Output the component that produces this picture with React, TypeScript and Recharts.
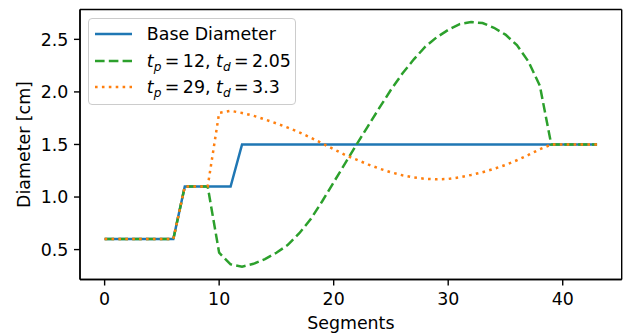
import React from "react";
import { CartesianGrid, Legend, Line, LineChart, XAxis, YAxis } from "recharts";

const SEGMENTS = Array.from({ length: 44 }, (_, i) => i);

const BASE_DIAMETER = [
  0.6, 0.6, 0.6, 0.6, 0.6, 0.6, 0.6, 1.1, 1.1, 1.1, 1.1, 1.1, 1.5, 1.5, 1.5, 1.5, 1.5, 1.5, 1.5, 1.5, 1.5, 1.5,
  1.5, 1.5, 1.5, 1.5, 1.5, 1.5, 1.5, 1.5, 1.5, 1.5, 1.5, 1.5, 1.5, 1.5, 1.5, 1.5, 1.5, 1.5, 1.5, 1.5, 1.5, 1.5,
];

const TP12 = [
  0.6, 0.6, 0.6, 0.6, 0.6, 0.6, 0.6, 1.1, 1.1, 1.1, 0.47, 0.36, 0.338, 0.365, 0.41, 0.47, 0.545, 0.656, 0.79,
  0.96, 1.14, 1.32, 1.5, 1.675, 1.85, 2.02, 2.175, 2.31, 2.43, 2.52, 2.59, 2.645, 2.665, 2.655, 2.61, 2.545,
  2.445, 2.29, 2.06, 1.5, 1.5, 1.5, 1.5, 1.5,
];

const TP29 = [
  0.6, 0.6, 0.6, 0.6, 0.6, 0.6, 0.6, 1.1, 1.1, 1.1, 1.8, 1.82, 1.8, 1.773, 1.738, 1.7, 1.66, 1.615, 1.565, 1.51,
  1.455, 1.4, 1.355, 1.31, 1.27, 1.235, 1.207, 1.186, 1.173, 1.168, 1.172, 1.187, 1.21, 1.236, 1.268, 1.305,
  1.35, 1.4, 1.455, 1.5, 1.5, 1.5, 1.5, 1.5,
];

const X_TICKS = [0, 10, 20, 30, 40];
const Y_TICKS = [0.5, 1.0, 1.5, 2.0, 2.5];

const data = SEGMENTS.map((s, i) => ({
  seg: s,
  base: BASE_DIAMETER[i],
  tp12: TP12[i],
  tp29: TP29[i],
}));

const FONT = "DejaVu Sans, sans-serif";
const FS = 17.4;
const LW = 2.5;
const DASHED = "9.6 4.2";
const DOTTED = "2.6 4.3";
const EQ = "\u2009=\u2009";

const sub = (s: string) => (
  <sub style={{ fontSize: "0.7em", verticalAlign: "-0.3em", lineHeight: 0 }}>
    <i>{s}</i>
  </sub>
);

// legend rows: dash pattern + label per series
const LEGEND_ROWS: { key: string; color: string; dash?: string; label: React.ReactNode }[] = [
  { key: "base", color: "#1f77b4", label: "Base Diameter" },
  {
    key: "tp12",
    color: "#2ca02c",
    dash: DASHED,
    label: (
      <>
        <i>t</i>
        {sub("p")}
        {EQ + "12, "}
        <i>t</i>
        {sub("d")}
        {EQ + "2.05"}
      </>
    ),
  },
  {
    key: "tp29",
    color: "#ff7f0e",
    dash: DOTTED,
    label: (
      <>
        <i>t</i>
        {sub("p")}
        {EQ + "29, "}
        <i>t</i>
        {sub("d")}
        {EQ + "3.3"}
      </>
    ),
  },
];

function LegendBox() {
  return (
    <div
      style={{
        boxSizing: "border-box",
        width: 208,
        height: 87,
        background: "rgba(255,255,255,0.8)",
        border: "1.3px solid #cccccc",
        borderRadius: 4,
        padding: "2px 0 0 6px",
        fontFamily: FONT,
        fontSize: FS,
        color: "#000",
      }}
    >
      {LEGEND_ROWS.map((r) => (
        <div key={r.key} style={{ display: "flex", alignItems: "center", height: 26.2, whiteSpace: "nowrap" }}>
          <svg width={37} height={10} style={{ marginRight: 14.5, flexShrink: 0 }}>
            <line x1={0} y1={5} x2={37} y2={5} stroke={r.color} strokeWidth={LW} strokeDasharray={r.dash} />
          </svg>
          <span>{r.label}</span>
        </div>
      ))}
    </div>
  );
}

export default function App() {
  return (
    <div style={{ position: "absolute", left: 0, top: 0, width: 627, height: 334, background: "#fff" }}>
      <LineChart width={627} height={334} data={data} margin={{ top: 9.5, right: 5.3, bottom: 4.5, left: 20 }}>
        <CartesianGrid
          stroke="#000"
          strokeWidth={1.4}
          horizontalCoordinatesGenerator={({ offset }: any) => [offset.top, offset.top + offset.height]}
          verticalCoordinatesGenerator={({ offset }: any) => [offset.left, offset.left + offset.width]}
        />
        <XAxis
          dataKey="seg"
          type="number"
          domain={[-2.15, 45.15]}
          ticks={X_TICKS}
          allowDataOverflow
          height={50}
          stroke="#000"
          strokeWidth={1.4}
          tickSize={6}
          tickMargin={7}
          tick={{ fill: "#000", fontSize: FS, fontFamily: FONT }}
          label={{ value: "Segments", position: "insideBottom", offset: 0.5, fill: "#000", fontSize: FS, fontFamily: FONT }}
        />
        <YAxis
          type="number"
          domain={[0.2155, 2.784]}
          ticks={Y_TICKS}
          allowDataOverflow
          width={60}
          stroke="#000"
          strokeWidth={1.4}
          tickSize={6}
          tickMargin={5.7}
          tickFormatter={(v: number) => v.toFixed(1)}
          tick={{ fill: "#000", fontSize: FS, fontFamily: FONT }}
          label={{
            value: "Diameter [cm]",
            angle: -90,
            position: "insideLeft",
            offset: 4,
            style: { textAnchor: "middle" },
            fill: "#000",
            fontSize: FS,
            fontFamily: FONT,
          }}
        />
        <Line dataKey="base" stroke="#1f77b4" strokeWidth={LW} dot={false} isAnimationActive={false} type="linear" />
        <Line dataKey="tp12" stroke="#2ca02c" strokeWidth={LW} strokeDasharray={DASHED} dot={false} isAnimationActive={false} type="linear" />
        <Line dataKey="tp29" stroke="#ff7f0e" strokeWidth={LW} strokeDasharray={DOTTED} dot={false} isAnimationActive={false} type="linear" />
        <Legend
          layout="horizontal"
          verticalAlign="middle"
          align="center"
          content={() => <LegendBox />}
          wrapperStyle={{ left: 88.3, top: 18.3, width: "auto" }}
        />
      </LineChart>
    </div>
  );
}
